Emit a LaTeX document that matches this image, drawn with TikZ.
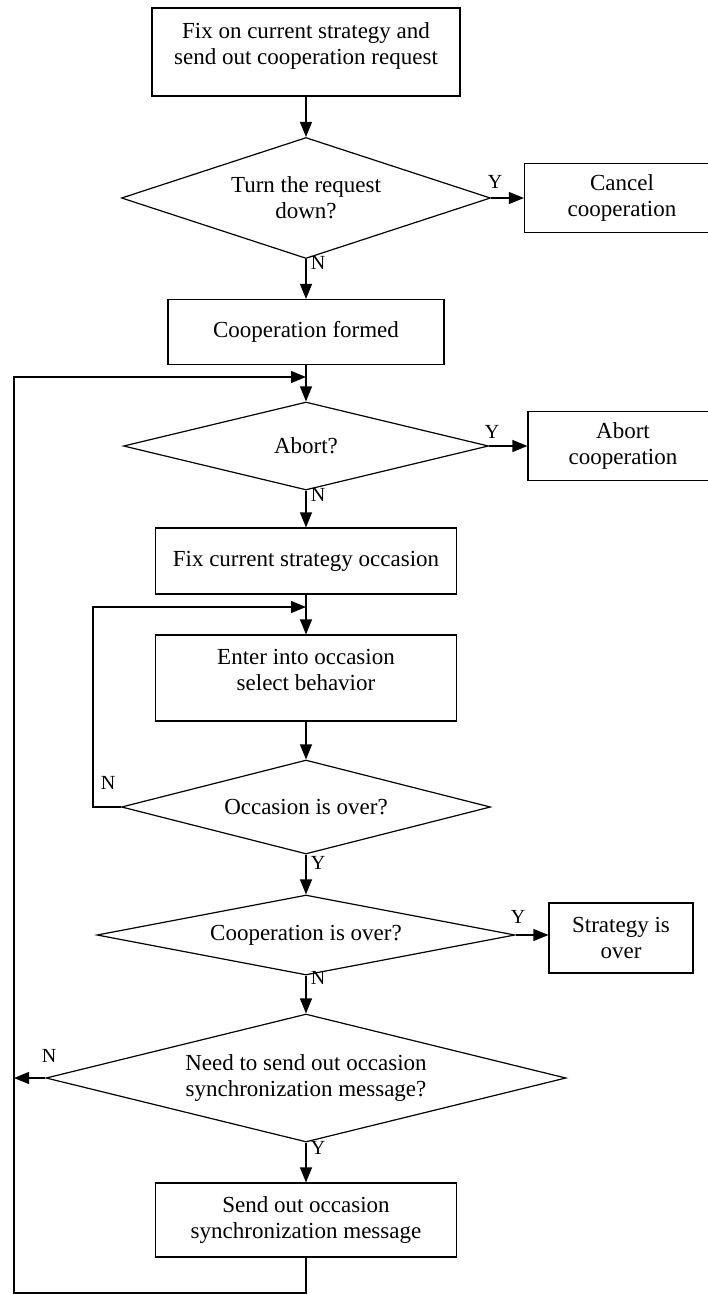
\documentclass[tikz,border=0pt]{standalone}
\usepackage{fontspec}
\setmainfont{Liberation Serif}
\usetikzlibrary{shapes}
\usetikzlibrary{arrows}
\usetikzlibrary{arrows.meta}

\begin{document}
\begin{tikzpicture}[x=1pt,y=-1pt]
					\tikzstyle{every node}=[font=\fontsize{23}{26}\selectfont,align=center,inner sep=0pt]
					\tikzstyle{proc}=[rectangle,draw,line width=1.2pt]
					\tikzstyle{decide}=[diamond,draw,line width=1.2pt]
					\tikzstyle{yn}=[font=\fontsize{20}{20}\selectfont]
					\tikzstyle{flow}=[->,>={Triangle[length=15pt,width=12pt]},line width=1.2pt]
					\useasboundingbox (0,0) rectangle (708,1294);
					\node[proc,minimum width=308pt,minimum height=88pt,text depth=16pt] (start) at (306,52) {Fix on current strategy and\\send out cooperation request};
					\node[decide,aspect=3.05,minimum width=369pt,minimum height=121pt] (turn) at (306,198) {Turn the request\\down?};
					\node[proc,minimum width=195pt,minimum height=69pt] (cancel) at (622,198) {Cancel\\cooperation};
					\node[proc,minimum width=276pt,minimum height=65pt] (formed) at (306,332) {Cooperation formed};
					\node[decide,aspect=4.15,minimum width=365pt,minimum height=88pt] (abort) at (306,446) {Abort?};
					\node[proc,minimum width=190pt,minimum height=69pt] (abortc) at (623,446) {Abort\\cooperation};
					\node[proc,minimum width=301pt,minimum height=66pt] (occ) at (306,561) {Fix current strategy occasion};
					\node[proc,minimum width=301pt,minimum height=86pt,text depth=16pt] (enter) at (306,678) {Enter into occasion\\select behavior};
					\node[decide,aspect=3.93,minimum width=369pt,minimum height=94pt] (occover) at (306,807) {Occasion is over?};
					\node[decide,aspect=5.22,minimum width=418pt,minimum height=80pt] (coopover) at (306,935) {Cooperation is over?};
					\node[proc,minimum width=144pt,minimum height=70pt] (stratover) at (621,938) {Strategy is\\over};
					\node[decide,aspect=4.06,minimum width=520pt,minimum height=128pt] (needsync) at (306,1078) {Need to send out occasion\\synchronization message?};
					\node[proc,minimum width=301pt,minimum height=74pt] (send) at (306,1220) {Send out occasion\\synchronization message};
					% Y / N marks
					\node[yn] (y1) at (495,182) {Y};
					\node[yn] (n1) at (318,263) {N};
					\node[yn] (y2) at (492,432) {Y};
					\node[yn] (n2) at (318,495) {N};
					\node[yn] (n3) at (108,783) {N};
					\node[yn] (y3) at (318,863) {Y};
					\node[yn] (y4) at (518,917) {Y};
					\node[yn] (n4) at (318,978) {N};
					\node[yn] (n5) at (49,1056) {N};
					\node[yn] (y5) at (318,1148) {Y};
					\coordinate (outtop) at (14,377);
					\coordinate (outbot) at (14,1293);
					\coordinate (outmid) at (14,1078);
					\coordinate (innertop) at (93,607);
					% main flow
					\draw[flow] (start) -- (turn);
					\draw[flow] (turn) -- (cancel);
					\draw[flow] (turn) -- (formed);
					\draw[flow] (formed) -- (abort);
					\draw[flow] (abort) -- (abortc);
					\draw[flow] (abort) -- (occ);
					\draw[flow] (occ) -- (enter);
					\draw[flow] (enter) -- (occover);
					\draw[flow] (occover) -- (coopover);
					\draw[flow] (coopover.east) -- (coopover.east -| stratover.west);
					\draw[flow] (coopover) -- (needsync);
					\draw[flow] (needsync) -- (send);
					% loops
					\draw[flow] (occover.west) -| (innertop) -- (innertop -| enter);
					\draw[flow] (needsync.west) -- (outmid);
					\draw[flow] (send.south) |- (outbot) -- (outtop) -- (outtop -| formed);
\end{tikzpicture}
\end{document}
